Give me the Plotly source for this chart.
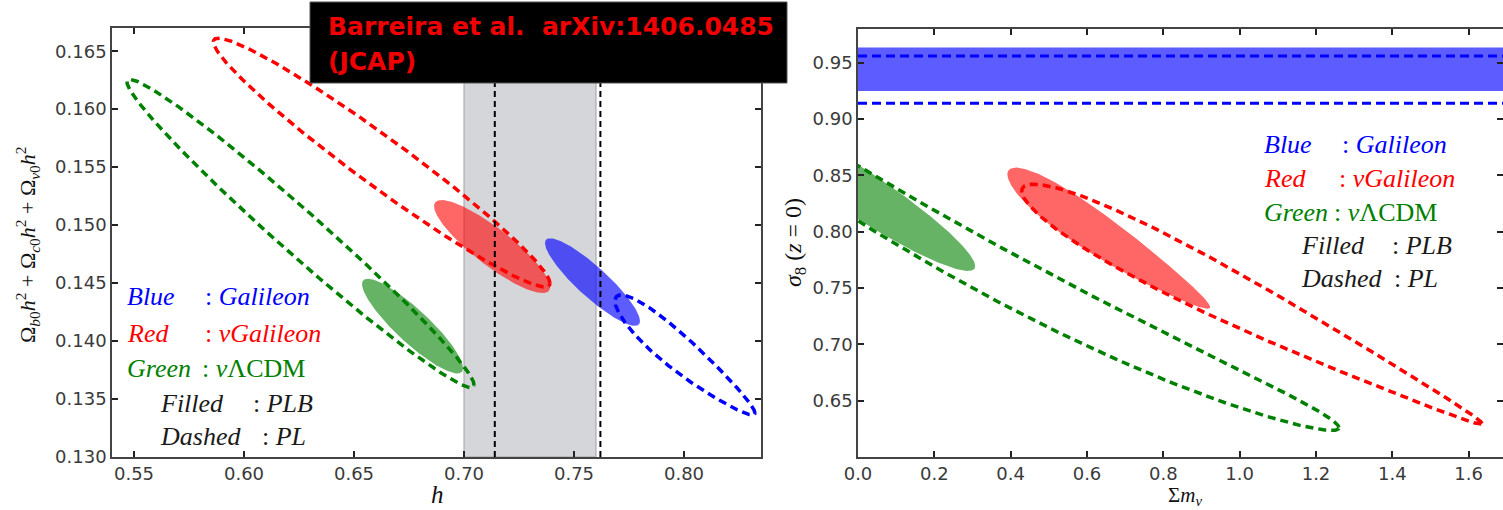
import numpy as np
import plotly.graph_objects as go

W, H = 1503, 510

# Confidence contours, one list per region:
# [centre x, centre y, half-extent in x, ridge slope, vertical half-thickness, bend, taper]
# Left panel: h versus Omega_m h^2
h_galileon_plb = [0.7584, 0.14509, 0.02159, -0.1557, 0.00172, 0.0, 0.0]
h_galileon_pl = [0.80045, 0.13862, 0.03182, -0.1521, 0.00181, 0.0, 0.3]
h_nugalileon_plb = [0.71273, 0.14815, 0.02636, -0.1324, 0.00198, 0.0, 0.0]
h_nugalileon_pl = [0.66259, 0.15539, 0.0765, -0.1361, 0.00259, 0.0, 0.0]
h_nulcdm_plb = [0.6766, 0.14129, 0.02295, -0.1577, 0.00190, 0.0, 0.0]
h_nulcdm_pl = [0.6257, 0.14927, 0.0789, -0.1656, 0.00246, 0.0, 0.0]

# Right panel: sum of neutrino masses versus sigma_8
m_nugalileon_plb = [0.657, 0.792, 0.2657, -0.2219, 0.0205, 0.0, 0.36]
m_nugalileon_pl = [1.032, 0.7329, 0.603, -0.1712, 0.0237, 0.0, 0.55]
m_nulcdm_plb = [0.0, 0.8354, 0.307, -0.2147, 0.0243, 0.0, 0.0]
m_nulcdm_pl = [0.24, 0.7863, 1.02, -0.1905, 0.0250, 0.0327, 0.0]

# Galileon (massless neutrinos): sigma_8 bounds
sigma8_galileon_plb = [0.925, 0.9635]
sigma8_galileon_pl = [0.914, 0.956]

# local H0 priors on h
h_band = [0.70, 0.76]
h_local = [0.714, 0.762]

# axis ticks
h_ticks = [0.55, 0.60, 0.65, 0.70, 0.75, 0.80]
omh2_ticks = [0.130, 0.135, 0.140, 0.145, 0.150, 0.155, 0.160, 0.165]
mnu_ticks = [0.0, 0.2, 0.4, 0.6, 0.8, 1.0, 1.2, 1.4, 1.6]
s8_ticks = [0.65, 0.70, 0.75, 0.80, 0.85, 0.90, 0.95]

# legend text
legend_colours = ["Blue", "Red", "Green"]
legend_models = ["<i>Galileon</i>", "<i>νGalileon</i>", "<i>ν</i>ΛCDM"]
legend_kinds = ["Filled", "Dashed"]
legend_datasets = ["PLB", "PL"]

BLUE, RED, GREEN = "#0000ff", "#ff0000", "#008000"
FILL = {BLUE: "rgba(0,0,255,0.64)", RED: "rgba(255,0,0,0.6)", GREEN: "rgba(0,128,0,0.6)"}
SERIF = "Liberation Serif"


def contour(p, n=400):
    cx, cy, sx, slope, w, bend, taper = p
    t = np.linspace(0.0, 2.0 * np.pi, n)
    dx = sx * np.cos(t)
    y = cy + slope * dx + bend * dx ** 2 + w * (1.0 - taper * np.cos(t)) * np.sin(t)
    return cx + dx, y


def px_x(px):
    return px / W


def px_y(py):
    return 1.0 - py / H


fig = go.Figure()


def add_region(p, colour, filled, xa, ya):
    x, y = contour(p)
    if filled:
        fig.add_trace(go.Scatter(x=x, y=y, mode="lines", fill="toself", fillcolor=FILL[colour],
                                 line=dict(width=0, color=colour), hoverinfo="skip",
                                 showlegend=False, xaxis=xa, yaxis=ya))
    else:
        fig.add_trace(go.Scatter(x=x, y=y, mode="lines", line=dict(width=3.5, color=colour, dash="8px,5px"),
                                 hoverinfo="skip", showlegend=False, xaxis=xa, yaxis=ya))


# left panel
for p, c, f in [(h_nulcdm_plb, GREEN, True), (h_nulcdm_pl, GREEN, False),
                (h_nugalileon_plb, RED, True), (h_nugalileon_pl, RED, False),
                (h_galileon_plb, BLUE, True), (h_galileon_pl, BLUE, False)]:
    add_region(p, c, f, "x", "y")

# right panel
for p, c, f in [(m_nulcdm_plb, GREEN, True), (m_nulcdm_pl, GREEN, False),
                (m_nugalileon_plb, RED, True), (m_nugalileon_pl, RED, False)]:
    add_region(p, c, f, "x2", "y2")

shapes = []
shapes.append(dict(type="rect", xref="x", yref="y domain", x0=h_band[0], x1=h_band[1], y0=0, y1=1,
                   fillcolor="#d4d6d9", line=dict(color="#a0a0a0", width=1), layer="below"))
for v in h_local:
    shapes.append(dict(type="line", xref="x", yref="y domain", x0=v, x1=v, y0=0, y1=1,
                       line=dict(color="#000000", width=2, dash="6px,4px"), layer="above"))
shapes.append(dict(type="rect", xref="x2 domain", yref="y2", x0=0, x1=1,
                   y0=sigma8_galileon_plb[0], y1=sigma8_galileon_plb[1],
                   fillcolor=FILL[BLUE], line=dict(width=0), layer="below"))
for v in sigma8_galileon_pl:
    shapes.append(dict(type="line", xref="x2 domain", yref="y2", x0=0, x1=1, y0=v, y1=v,
                       line=dict(color=BLUE, width=3, dash="9px,5px"), layer="above"))
# reference banner
shapes.append(dict(type="rect", xref="paper", yref="paper", x0=px_x(310), x1=px_x(787),
                   y0=px_y(83), y1=px_y(2), fillcolor="#000000", line=dict(color="#555555", width=1),
                   layer="above"))

ann = []


def text(px, py, s, size, colour, family=SERIF, xanchor="left", angle=0, bold=False):
    ann.append(dict(x=px_x(px), y=px_y(py), xref="paper", yref="paper", text=s, showarrow=False,
                    xanchor=xanchor, yanchor="middle", textangle=angle,
                    font=dict(family=family, size=size, color=colour,
                              weight="bold" if bold else "normal")))


# banner text
text(326, 26, "Barreira et al.\u00a0 arXiv:1406.0485", 25, "#f00000", family="DejaVu Sans", bold=True)
text(326, 61, "(JCAP)", 25, "#f00000", family="DejaVu Sans", bold=True)

# axis titles
text(437, 494, "<i>h</i>", 25, "#111111", xanchor="center")
text(1185, 496, "Σ<i>m</i><sub><i>ν</i></sub>", 21, "#111111", xanchor="center")
text(27, 245, "Ω<sub><i>b</i>0</sub><i>h</i><sup>2</sup> + Ω<sub><i>c</i>0</sub><i>h</i><sup>2</sup> + "
     "Ω<sub><i>ν</i>0</sub><i>h</i><sup>2</sup>", 22, "#111111", xanchor="center", angle=-90)
text(795, 243, "<i>σ</i><sub>8</sub> (<i>z</i> = 0)", 24, "#111111", xanchor="center", angle=-90)

# in-panel keys
legend_text_colours = [BLUE, RED, GREEN]
key_rows = [
    # label x, colon x, baselines for the two panels
    dict(lx=125, cx=[203, 203, 200, 251, 260], base=[305, 342, 377, 412, 445], kx=158),
    dict(lx=1262, cx=[1340, 1337, 1332, 1390, 1392], base=[153, 187, 221, 254, 287], kx=1299),
]
for k in key_rows:
    for i in range(3):
        text(k["lx"], k["base"][i] - 9, "<i>%s</i>" % legend_colours[i], 26, legend_text_colours[i])
        text(k["cx"][i], k["base"][i] - 9, ": " + legend_models[i], 26, legend_text_colours[i])
    for j in range(2):
        text(k["kx"], k["base"][3 + j] - 9, "<i>%s</i>" % legend_kinds[j], 26, "#1a1a1a")
        text(k["cx"][3 + j], k["base"][3 + j] - 9, ": <i>%s</i>" % legend_datasets[j], 26, "#1a1a1a")

axis_common = dict(showline=True, linecolor="#444444", linewidth=1.5, mirror="ticks", ticks="inside",
                   ticklen=6, tickwidth=1.5, tickcolor="#222222", showgrid=False, zeroline=False,
                   automargin=False,
                   tickfont=dict(family="DejaVu Sans", size=18, color="#3a3a3a"))

fig.update_layout(
    width=W, height=H, margin=dict(l=0, r=0, t=0, b=0),
    paper_bgcolor="white", plot_bgcolor="white", showlegend=False,
    xaxis=dict(domain=[px_x(112), px_x(761)], range=[0.54, 0.835], tickvals=h_ticks, tickformat=".2f",
               anchor="y", **axis_common),
    yaxis=dict(domain=[px_y(457), px_y(28)], range=[0.130, 0.1670], tickvals=omh2_ticks, tickformat=".3f",
               anchor="x", **axis_common),
    xaxis2=dict(domain=[px_x(858), 1.0], range=[0.0, 1.69], tickvals=mnu_ticks, tickformat=".1f",
                anchor="y2", **axis_common),
    yaxis2=dict(domain=[px_y(457), px_y(29)], range=[0.60, 0.98], tickvals=s8_ticks, tickformat=".2f",
                anchor="x2", **axis_common),
    shapes=shapes, annotations=ann,
)

fig.write_html("out.html")
